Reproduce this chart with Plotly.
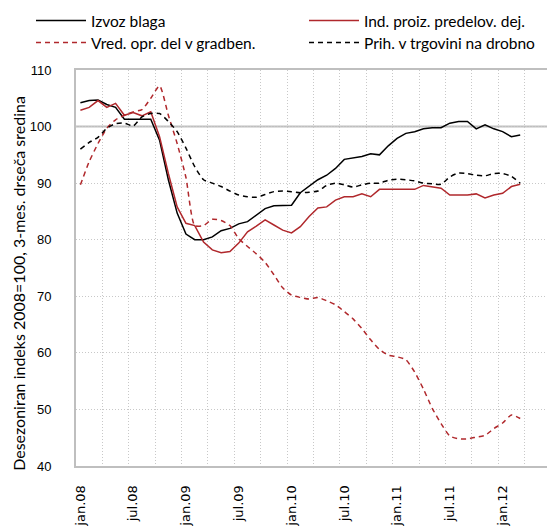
import plotly.graph_objects as go

months = ["jan", "feb", "mar", "apr", "maj", "jun", "jul", "avg", "sep", "okt", "nov", "dec"]
categories = [f"{m}.{y:02d}" for y in range(8, 13) for m in months][:54]
tick_labels = ["jan.08", "jul.08", "jan.09", "jul.09", "jan.10", "jul.10", "jan.11", "jul.11", "jan.12"]

izvoz_blaga = [104.2, 104.6, 104.7, 103.9, 103.4, 101.3, 101.3, 101.3, 101.3, 97.6,
               90.6, 84.7, 81.0, 80.0, 80.0, 80.5, 81.6, 82.0, 82.8, 83.2,
               84.3, 85.5, 86.0, 86.1, 86.1, 88.3, 89.5, 90.6, 91.4, 92.6,
               94.2, 94.4, 94.7, 95.2, 95.0, 96.6, 97.9, 98.8, 99.1, 99.6,
               99.8, 99.8, 100.6, 100.9, 100.9, 99.6, 100.3, 99.6, 99.1, 98.2, 98.5]

ind_proiz = [102.9, 103.4, 104.6, 103.4, 104.1, 102.0, 102.5, 101.9, 102.6, 98.2,
             91.7, 85.8, 82.9, 82.5, 79.6, 78.2, 77.7, 77.9, 79.4, 81.4,
             82.4, 83.5, 82.6, 81.7, 81.2, 82.3, 84.1, 85.6, 85.8, 87.0,
             87.6, 87.6, 88.1, 87.6, 88.9, 88.9, 88.9, 88.9, 88.9, 89.6,
             89.4, 89.1, 87.9, 87.9, 87.9, 88.1, 87.4, 87.9, 88.2, 89.4, 89.8]

vred_gradben = [89.7, 93.8, 97.0, 99.7, 101.2, 102.0, 102.6, 103.0, 105.0, 107.2,
                102.0, 97.0, 91.0, 82.5, 82.5, 83.6, 83.4, 82.5, 80.2, 78.8,
                77.5, 76.0, 73.8, 71.5, 70.2, 69.8, 69.5, 69.8, 69.2, 68.5,
                67.3, 66.0, 64.3, 62.3, 60.6, 59.6, 59.3, 58.8, 56.6, 53.6,
                50.2, 47.5, 45.3, 44.8, 44.8, 45.1, 45.4, 46.6, 47.6, 49.0, 48.4]

prih_trgovina = [96.0, 97.2, 98.1, 99.7, 100.5, 100.6, 100.1, 101.7, 102.3, 102.3,
                 100.9, 99.1, 96.2, 92.9, 90.6, 90.0, 89.4, 88.6, 87.9, 87.6,
                 87.5, 88.0, 88.5, 88.6, 88.5, 88.3, 88.4, 88.6, 89.6, 90.0,
                 89.7, 89.3, 89.7, 90.0, 90.0, 90.5, 90.7, 90.6, 90.4, 90.0,
                 89.9, 89.8, 91.1, 91.8, 91.7, 91.4, 91.3, 91.7, 91.7, 91.2, 90.0]

y_title = "Desezoniran indeks 2008=100, 3-mes. drseča sredina"

RED = "#b0282c"
FONT = "Lato"
W, H = 547, 522  # page body has an 8px margin

x_idx = list(range(len(izvoz_blaga)))

fig = go.Figure()
fig.add_trace(go.Scatter(x=x_idx, y=izvoz_blaga, name="Izvoz blaga", mode="lines",
                         legend="legend", line=dict(color="#000000", width=1.5)))
fig.add_trace(go.Scatter(x=x_idx, y=ind_proiz, name="Ind. proiz. predelov. dej.", mode="lines",
                         legend="legend2", line=dict(color=RED, width=1.5)))
fig.add_trace(go.Scatter(x=x_idx, y=vred_gradben, name="Vred. opr. del v gradben.", mode="lines",
                         legend="legend3",
                         line=dict(color=RED, width=1.5, dash="5px,4px", shape="spline", smoothing=0.6)))
fig.add_trace(go.Scatter(x=x_idx, y=prih_trgovina, name="Prih. v trgovini na drobno", mode="lines",
                         legend="legend4",
                         line=dict(color="#000000", width=1.5, dash="5px,4px", shape="spline", smoothing=0.6)))

tick_pos = [categories.index(t) for t in tick_labels]

leg_common = dict(orientation="v", xref="container", yref="container",
                  yanchor="middle", xanchor="left", itemwidth=50,
                  font=dict(family=FONT, size=15.5), bgcolor="rgba(0,0,0,0)")
row1 = 1 - 13 / H
row2 = 1 - 35 / H
col1 = 23 / W
col2 = 296 / W

fig.update_layout(
    width=W, height=H,
    margin=dict(l=68, r=4, t=62, b=64, autoexpand=False),
    paper_bgcolor="white", plot_bgcolor="white",
    font=dict(family=FONT, size=14, color="#000000"),
    showlegend=True,
    legend=dict(x=col1, y=row1, **leg_common),
    legend2=dict(x=col2, y=row1, **leg_common),
    legend3=dict(x=col1, y=row2, **leg_common),
    legend4=dict(x=col2, y=row2, **leg_common),
    xaxis=dict(range=[-0.5, len(categories) - 0.5], tickmode="array", automargin=False,
               tickvals=tick_pos, ticktext=tick_labels, tickangle=-90,
               showgrid=False, ticks="", zeroline=False, ticklabelstandoff=12,
               showline=True, linecolor="#bfbfbf", linewidth=2, mirror=True,
               tickfont=dict(family="DejaVu Sans", size=13),
               minor=dict(tickmode="linear", tick0=-0.5, dtick=3, showgrid=True,
                          gridcolor="#c8c8c8", gridwidth=1, griddash="1px,2px", ticks="")),
    yaxis=dict(range=[40, 110], tickmode="linear", tick0=40, dtick=10, automargin=False,
               showgrid=True, gridcolor="#c8c8c8", gridwidth=1, griddash="1px,2px",
               zeroline=False, ticks="", ticklabelstandoff=20,
               showline=True, linecolor="#bfbfbf", linewidth=2, mirror=True,
               tickfont=dict(family="Liberation Sans", size=13)),
)

fig.add_annotation(text=y_title, textangle=-90, xref="paper", yref="paper",
                   x=-57 / 475, y=0.46, xanchor="center", yanchor="middle",
                   showarrow=False, font=dict(family=FONT, size=16, color="#000000"))

fig.add_shape(type="line", xref="paper", yref="y", x0=0, x1=1, y0=100, y1=100,
              line=dict(color="#bfbfbf", width=2), layer="below")

fig.write_html("out.html")
